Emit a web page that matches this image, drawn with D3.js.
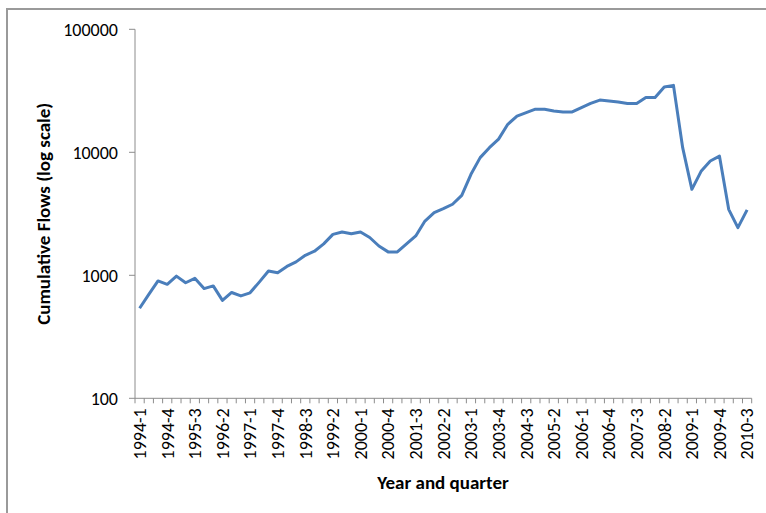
<!DOCTYPE html>
<html lang="en">
<head>
    <meta charset="UTF-8">
    <title>Cumulative Flows</title>
    <script src="https://cdn.jsdelivr.net/npm/d3@7"></script>
    <style>
        body { margin: 0; background: #fff; }
        text { font-family: Calibri, Carlito, Lato, sans-serif; fill: #000; }
    </style>
</head>
<body>
<script>
    // quarters 1994-1 .. 2010-3
    var startYear = 1994;
    var quarterCount = 67;
    var quarters = [];
    for (var i = 0; i < quarterCount; i++) {
        quarters.push((startYear + Math.floor(i / 4)) + "-" + (i % 4 + 1));
    }

    // cumulative flows
    var flows = [
        540, 700, 900, 845, 985, 870, 945, 780, 820, 625, 725, 680,
        720, 880, 1085, 1050, 1180, 1285, 1455, 1570, 1800, 2150, 2250, 2180,
        2250, 2030, 1730, 1550, 1550, 1800, 2090, 2760, 3230, 3480, 3780, 4470,
        6620, 9050, 10900, 12800, 16900, 19700, 21000, 22400, 22400, 21700, 21300, 21300,
        23100, 25000, 26600, 26100, 25600, 24900, 24900, 27900, 27900, 34000, 35000, 10900,
        5000, 7000, 8500, 9300, 3440, 2440, 3400
    ];

    var yTicks = [100, 1000, 10000, 100000];
    var xLabels = quarters.filter(function (d, i) { return i % 3 === 0; });

    var width = 766, height = 513;
    var plotLeft = 135, plotRight = 751.7, plotTop = 29.3, plotBottom = 398.3;

    var svg = d3.select("body").append("svg")
        .attr("width", width)
        .attr("height", height);

    // outer chart frame (runs off the picture on the right and bottom)
    svg.append("rect")
        .attr("x", 7).attr("y", 9)
        .attr("width", 780).attr("height", 530)
        .attr("fill", "none")
        .attr("stroke", "#9a9a9a")
        .attr("stroke-width", 2);

    var x = d3.scaleBand().domain(quarters).range([plotLeft, plotRight]);
    var y = d3.scaleLog().domain([100, 100000]).range([plotBottom, plotTop]);

    var axisColor = "#8c8c8c";

    // y axis
    svg.append("line")
        .attr("x1", plotLeft).attr("x2", plotLeft)
        .attr("y1", plotTop).attr("y2", plotBottom)
        .attr("stroke", axisColor);

    svg.selectAll(".ytick").data(yTicks).enter().append("line")
        .attr("x1", plotLeft - 6).attr("x2", plotLeft)
        .attr("y1", function (d) { return y(d); })
        .attr("y2", function (d) { return y(d); })
        .attr("stroke", axisColor);

    svg.selectAll(".ylab").data(yTicks).enter().append("text")
        .attr("x", plotLeft - 17)
        .attr("y", function (d) { return y(d); })
        .attr("dy", "0.35em")
        .attr("text-anchor", "end")
        .style("font-size", "18px")
        .text(function (d) { return d; });

    // x axis, ticks on category boundaries
    svg.append("line")
        .attr("x1", plotLeft).attr("x2", plotRight)
        .attr("y1", plotBottom).attr("y2", plotBottom)
        .attr("stroke", axisColor);

    var bounds = quarters.map(function (q) { return x(q); }).concat([plotRight]);
    svg.selectAll(".xtick").data(bounds).enter().append("line")
        .attr("x1", function (d) { return d; })
        .attr("x2", function (d) { return d; })
        .attr("y1", plotBottom).attr("y2", plotBottom + 5)
        .attr("stroke", axisColor);

    svg.selectAll(".xlab").data(xLabels).enter().append("text")
        .attr("transform", function (d) {
            return "translate(" + (x(d) + x.bandwidth() / 2) + "," + (plotBottom + 10) + ") rotate(-90)";
        })
        .attr("dy", "0.35em")
        .attr("text-anchor", "end")
        .style("font-size", "18px")
        .text(function (d) { return d; });

    // axis titles
    svg.append("text")
        .attr("x", 443)
        .attr("y", 489)
        .attr("text-anchor", "middle")
        .style("font-size", "19px")
        .style("font-weight", "bold")
        .text("Year and quarter");

    svg.append("text")
        .attr("transform", "translate(50," + ((plotTop + plotBottom) / 2) + ") rotate(-90)")
        .attr("text-anchor", "middle")
        .style("font-size", "19px")
        .style("font-weight", "bold")
        .text("Cumulative Flows (log scale)");

    // the series
    var line = d3.line()
        .x(function (d, i) { return x(quarters[i]) + x.bandwidth() / 2; })
        .y(function (d) { return y(d); });

    svg.append("path")
        .datum(flows)
        .attr("d", line)
        .attr("fill", "none")
        .attr("stroke", "#4a7ebb")
        .attr("stroke-width", 3)
        .attr("stroke-linejoin", "round");
</script>
</body>
</html>
